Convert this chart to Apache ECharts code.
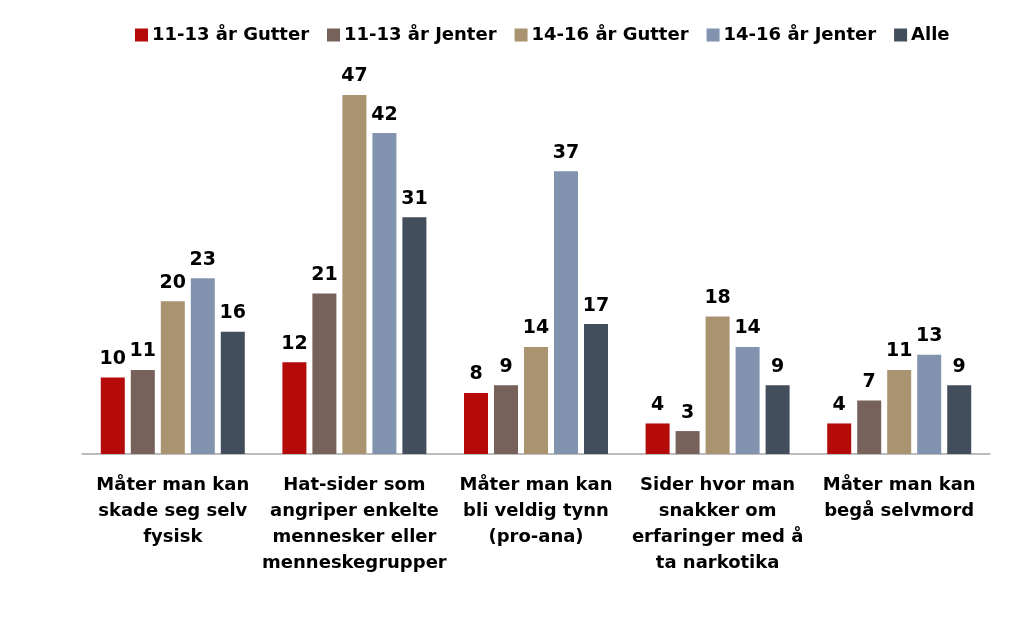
<!DOCTYPE html>
<html><head><meta charset="utf-8">
<script src="https://cdn.jsdelivr.net/npm/echarts@6/dist/echarts.min.js"></script>
<style>html,body{margin:0;padding:0;background:#fff}#c{width:1024px;height:621px}</style>
</head><body><div id="c"></div>
<script>
const categories = ["Måter man kan\nskade seg selv\nfysisk","Hat-sider som\nangriper enkelte\nmennesker eller\nmenneskegrupper","Måter man kan\nbli veldig tynn\n(pro-ana)","Sider hvor man\nsnakker om\nerfaringer med å\nta narkotika","Måter man kan\nbegå selvmord"];
const seriesNames = ["11-13 år Gutter","11-13 år Jenter","14-16 år Gutter","14-16 år Jenter","Alle"];
const gutter1113 = [10,12,8,4,4];
const jenter1113 = [11,21,9,3,7];
const gutter1416 = [20,47,14,18,11];
const jenter1416 = [23,42,37,14,13];
const alle = [16,31,17,9,9];
const colors = ["#B50A0A","#76625B","#A99370","#8193AF","#434E5C"];
const values = [gutter1113,jenter1113,gutter1416,jenter1416,alle];
const font = "DejaVu Sans";
const chart = echarts.init(document.getElementById('c'));
chart.setOption({
  animation:false,
  color:colors,
  textStyle:{fontFamily:font},
  legend:{top:21,left:130,itemWidth:13,itemHeight:13,itemGap:18,icon:'rect',
    textStyle:{fontFamily:font,fontWeight:'bold',fontSize:18,color:'#000',padding:[0,0,0,-1]}},
  grid:{left:82,right:34,top:72,bottom:167,containLabel:false},
  xAxis:{type:'category',data:categories,
    axisLine:{lineStyle:{color:'#A6A6A6',width:1.5}},axisTick:{show:false},
    axisLabel:{interval:0,margin:18,lineHeight:26,fontFamily:font,fontWeight:'bold',fontSize:18,color:'#000'}},
  yAxis:{type:'value',min:0,max:50,show:false,splitLine:{show:false}},
  series: seriesNames.map((n,i)=>({name:n,type:'bar',data:values[i],barWidth:24,barGap:'25%',
    label:{show:true,position:'top',distance:9,fontFamily:font,fontWeight:'bold',fontSize:19,color:'#000'}}))
});
</script></body></html>
